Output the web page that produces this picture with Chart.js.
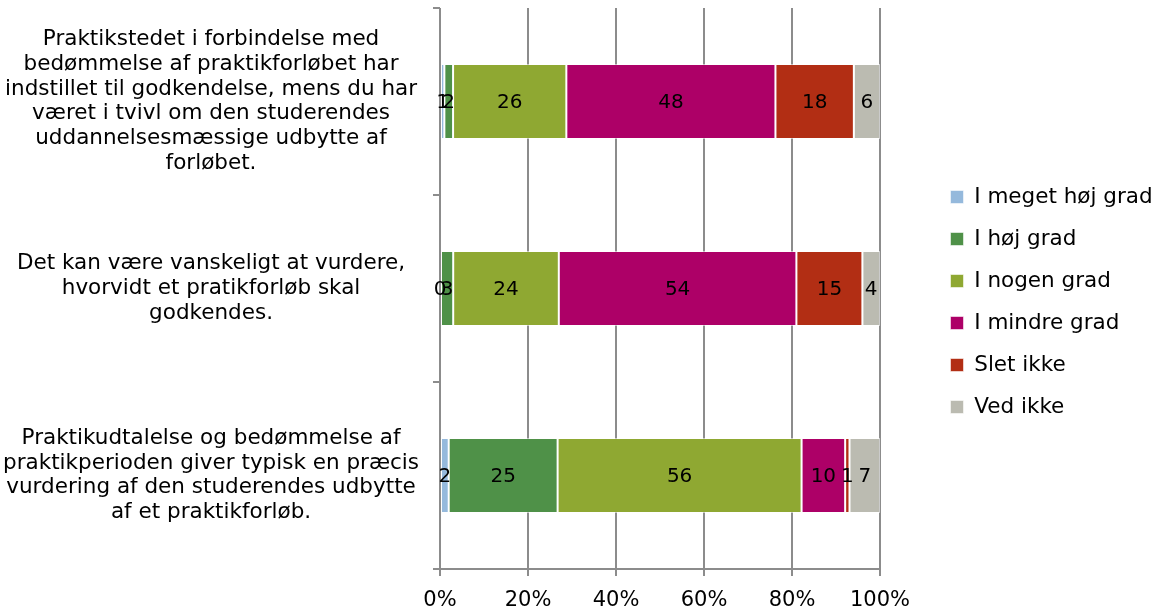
<!DOCTYPE html>
<html lang="da">
<head>
<meta charset="utf-8">
<title>Bedømmelse af praktikforløb</title>
<script src="https://cdn.jsdelivr.net/npm/chart.js@4.4.1/dist/chart.umd.min.js"></script>
<style>
    html, body { margin: 0; padding: 0; background: #fff; }
    #wrap { width: 1160px; height: 610px; }
</style>
</head>
<body>
<div id="wrap"><canvas id="chart-grad" width="1160" height="610"></canvas></div>
<script>
// ---------------------------------------------------------------------------
// DONNÉES
// ---------------------------------------------------------------------------

const KATEGORIER = [
    ['Praktikstedet i forbindelse med', 'bedømmelse af praktikforløbet har',
     'indstillet til godkendelse, mens du har', 'været i tvivl om den studerendes',
     'uddannelsesmæssige udbytte af', 'forløbet.'],
    ['Det kan være vanskeligt at vurdere,', 'hvorvidt et pratikforløb skal', 'godkendes.'],
    ['Praktikudtalelse og bedømmelse af', 'praktikperioden giver typisk en præcis',
     'vurdering af den studerendes udbytte', 'af et praktikforløb.'],
];

const SERIER = ['I meget høj grad', 'I høj grad', 'I nogen grad', 'I mindre grad', 'Slet ikke', 'Ved ikke'];

const MEGET_HOEJ = [1, 0, 2];
const HOEJ       = [2, 3, 25];
const NOGEN      = [26, 24, 56];
const MINDRE     = [48, 54, 10];
const SLET_IKKE  = [18, 15, 1];
const VED_IKKE   = [6, 4, 7];

const X_TICKS = [0, 20, 40, 60, 80, 100];

const FARVER = ['#95b9dc', '#4f9148', '#8fa832', '#ad0067', '#b22e14', '#bbbbb1'];

// ---------------------------------------------------------------------------
// PRÉPARATION — 100 % empilé
// ---------------------------------------------------------------------------

const VAERDIER = [MEGET_HOEJ, HOEJ, NOGEN, MINDRE, SLET_IKKE, VED_IKKE];
const SOMMES = KATEGORIER.map((_, i) => VAERDIER.reduce((s, serie) => s + serie[i], 0));

const datasets = SERIER.map((nom, k) => ({
    label:           nom,
    data:            VAERDIER[k].map((v, i) => v / SOMMES[i] * 100),
    raw:             VAERDIER[k],
    backgroundColor: FARVER[k],
    borderColor:     'rgba(255,255,255,0.55)',
    borderWidth:     1,
    borderSkipped:   false,
    barPercentage:      0.4,
    categoryPercentage: 1,
}));

const POLICE = 'DejaVu Sans, Verdana, sans-serif';
const LARGEUR = 1160;
const HAUTEUR = 610;
const GAUCHE_ZONE = 440;   // bord gauche de la zone de tracé (0 %)
const DROITE_ZONE = 880;   // bord droit (100 %)
const BAS_ZONE    = 569;

// Étiquettes de valeurs au centre des segments
const etiquettesPlugin = {
    id: 'etiquettes',
    afterDatasetsDraw(chart) {
        const ctx = chart.ctx;
        ctx.save();
        ctx.font = '20px ' + POLICE;
        ctx.fillStyle = '#000';
        ctx.textAlign = 'center';
        ctx.textBaseline = 'middle';
        chart.data.datasets.forEach((ds, k) => {
            chart.getDatasetMeta(k).data.forEach((el, i) => {
                const p = el.getProps(['x', 'y', 'base'], true);
                ctx.fillText(String(ds.raw[i]), (p.x + p.base) / 2, p.y + 1);
            });
        });
        ctx.restore();
    },
};

// ---------------------------------------------------------------------------
// INITIALISATION
// ---------------------------------------------------------------------------

Chart.defaults.font.family = POLICE;
Chart.defaults.color = '#000';

new Chart(document.getElementById('chart-grad'), {
    type: 'bar',
    data: { labels: KATEGORIER, datasets },
    options: {
        responsive: false,
        animation:  false,
        indexAxis:  'y',
        layout: { padding: { top: 8, left: 0, right: 0, bottom: 0 } },
        plugins: {
            tooltip: { enabled: false },
            legend: {
                position: 'right',
                fullSize: false,
                maxWidth: 228,
                // titre vide : descend un peu le bloc de la légende
                title:  { display: true, text: '', padding: 8.5, font: { size: 10, lineHeight: 1 } },
                labels: {
                    boxWidth:  13,
                    boxHeight: 13,
                    padding:   20.5,
                    color:     '#000',
                    font:      { size: 21.5, lineHeight: 1.2 },
                },
            },
        },
        scales: {
            x: {
                stacked: true,
                min: 0,
                max: 100,
                afterBuildTicks: s => { s.ticks = X_TICKS.map(v => ({ value: v })); },
                grid:   { color: '#8c8c8c', lineWidth: 2, tickLength: 7 },
                border: { display: true, color: '#8c8c8c', width: 2 },
                ticks:  { font: { size: 21 }, color: '#000', padding: 12, callback: v => v + '%' },
                afterFit: s => {
                    s.height = HAUTEUR - BAS_ZONE;
                    s.paddingLeft = 0;
                    s.paddingRight = LARGEUR - DROITE_ZONE;
                },
            },
            y: {
                stacked: true,
                grid:   { drawOnChartArea: false, color: '#8c8c8c', lineWidth: 2, tickLength: 7, offset: true },
                border: { display: false },
                ticks:  { font: { size: 21.5, lineHeight: 1.155 }, color: '#000', crossAlign: 'center', padding: 14 },
                afterFit: s => {
                    s.width = GAUCHE_ZONE;
                    s.paddingTop = 0;
                    s.paddingBottom = 0;
                },
            },
            // axe vide : écart entre la zone de tracé et la légende
            yEcart: {
                type: 'category',
                position: 'right',
                grid:   { display: false },
                border: { display: false },
                ticks:  { display: false },
                afterFit: s => { s.width = 50; },
            },
        },
    },
    plugins: [etiquettesPlugin],
});
</script>
</body>
</html>
